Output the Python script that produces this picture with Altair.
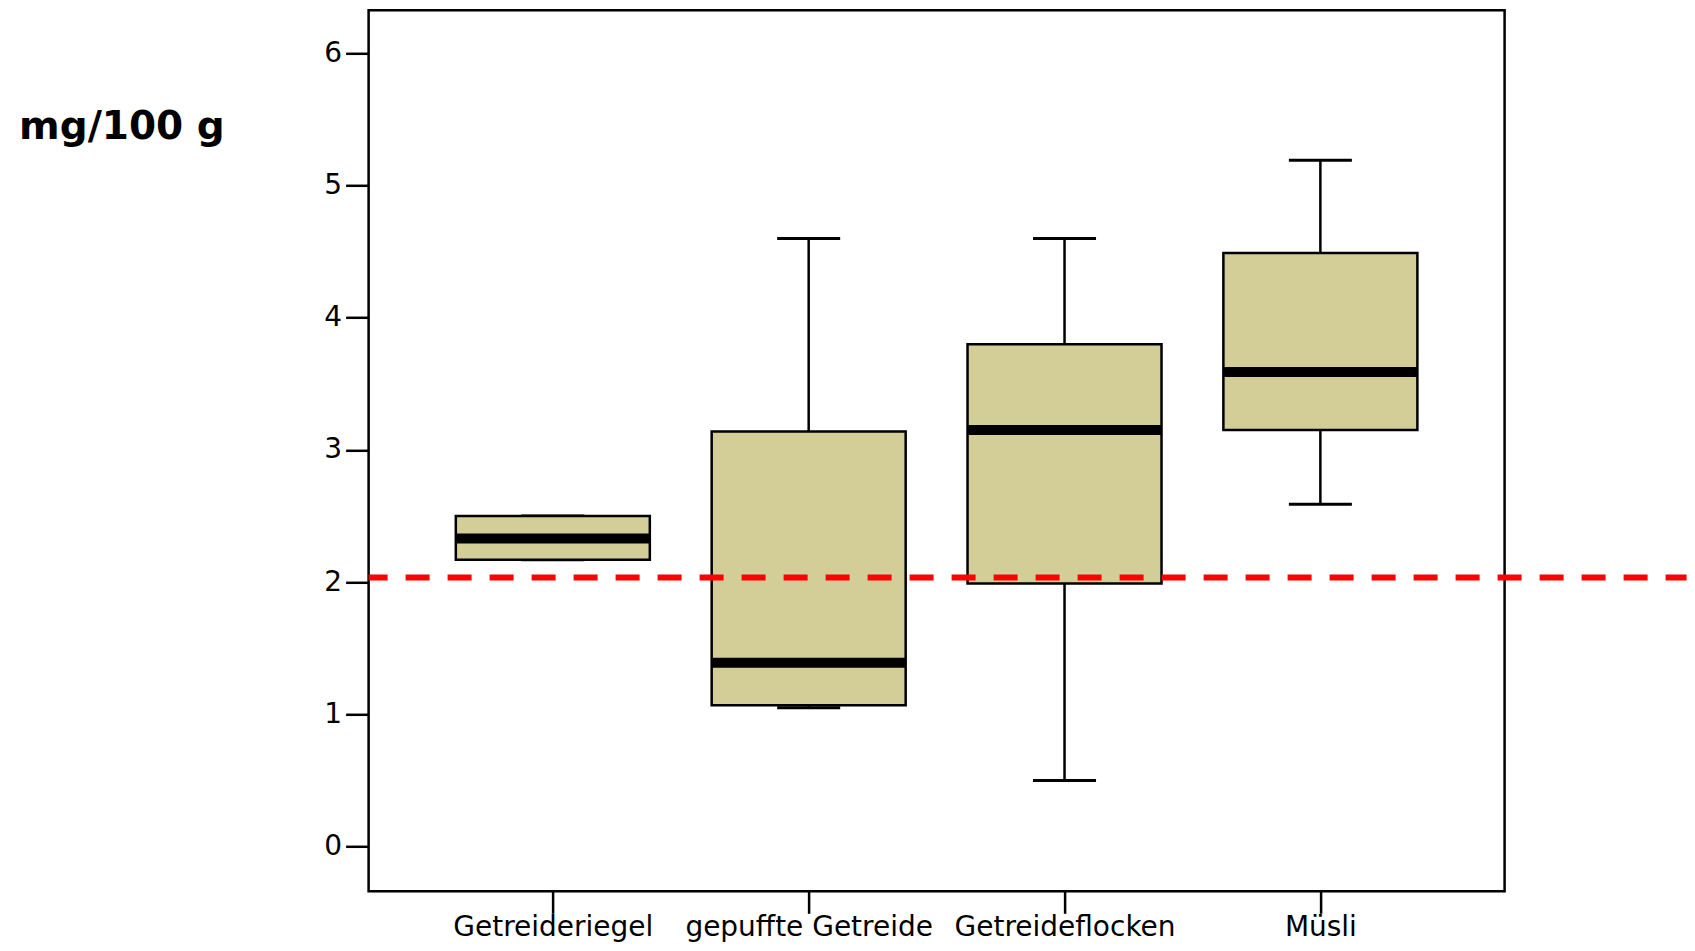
import altair as alt
import pandas as pd

categories = ["Getreideriegel", "gepuffte Getreide", "Getreideflocken", "Müsli"]
lower_whisker = [2.17, 1.05, 0.50, 2.59]
q1 = [2.17, 1.07, 1.99, 3.15]
median = [2.33, 1.39, 3.15, 3.59]
q3 = [2.50, 3.14, 3.80, 4.49]
upper_whisker = [2.50, 4.60, 4.60, 5.19]
reference_value = [2.035]
y_ticks = [0, 1, 2, 3, 4, 5, 6]

df = pd.DataFrame({
    "cat": categories,
    "lo": lower_whisker,
    "q1": q1,
    "med": median,
    "q3": q3,
    "hi": upper_whisker,
})
ref = pd.DataFrame({"v": reference_value})

W, H = 1136, 881
FONT = "DejaVu Sans"

xenc = alt.X(
    "cat:N",
    sort=categories,
    scale=alt.Scale(type="point", padding=0.72),
    axis=alt.Axis(
        title=None,
        labelFontSize=28,
        labelFont=FONT,
        labelColor="black",
        labelAngle=0,
        labelPadding=0.5,
        labelLimit=0,
        tickSize=22,
        tickWidth=2.5,
        tickColor="black",
        domain=False,
        grid=False,
    ),
)
yscale = alt.Scale(domain=[-0.338, 6.325], nice=False, zero=False)
yaxis = alt.Axis(
    values=y_ticks,
    format="d",
    title="mg/100 g",
    titleAngle=0,
    titleX=-350,
    titleY=128,
    titleAlign="left",
    titleBaseline="alphabetic",
    titleFontSize=39,
    titleFont=FONT,
    titleFontWeight="bold",
    titleColor="black",
    labelFontSize=28,
    labelFont=FONT,
    labelColor="black",
    labelPadding=4,
    tickSize=23,
    tickWidth=2.5,
    tickColor="black",
    domain=False,
    grid=False,
)

base = alt.Chart(df)

whisker = base.mark_rule(color="black", strokeWidth=2.5).encode(
    x=xenc,
    y=alt.Y("lo:Q", scale=yscale, axis=yaxis),
    y2="hi:Q",
)
cap_hi = base.mark_tick(color="black", size=63, thickness=3, opacity=1).encode(
    x=xenc, y=alt.Y("hi:Q", scale=yscale)
)
cap_lo = base.mark_tick(color="black", size=63, thickness=3, opacity=1).encode(
    x=xenc, y=alt.Y("lo:Q", scale=yscale)
)
box = base.mark_bar(size=194, fill="#D3CE98", stroke="black", strokeWidth=2.5).encode(
    x=xenc,
    y=alt.Y("q1:Q", scale=yscale),
    y2="q3:Q",
)
med = base.mark_tick(color="black", size=194, thickness=10, opacity=1).encode(
    x=xenc, y=alt.Y("med:Q", scale=yscale)
)
frame = alt.Chart(ref).mark_rect(fill=None, fillOpacity=0, stroke="black", strokeWidth=2.5).encode(
    x=alt.value(0), x2=alt.value(W), y=alt.value(0), y2=alt.value(H)
)
refline = alt.Chart(ref).mark_rule(
    color="#FF0000", strokeWidth=6, strokeDash=[24, 18], strokeDashOffset=5
).encode(
    y=alt.Y("v:Q", scale=yscale),
    x=alt.value(0),
    x2=alt.value(1318),
)

chart = (
    alt.layer(whisker, cap_hi, cap_lo, box, med, frame, refline)
    .properties(
        width=W,
        height=H,
        autosize=alt.AutoSizeParams(type="none"),
        padding={"left": 360.6, "top": 2.3, "right": 182.4, "bottom": 51.3},
    )
    .configure_view(stroke=None)
    .configure(background="white")
)

chart.save("out.html", embed_options={"renderer": "svg", "actions": False})
